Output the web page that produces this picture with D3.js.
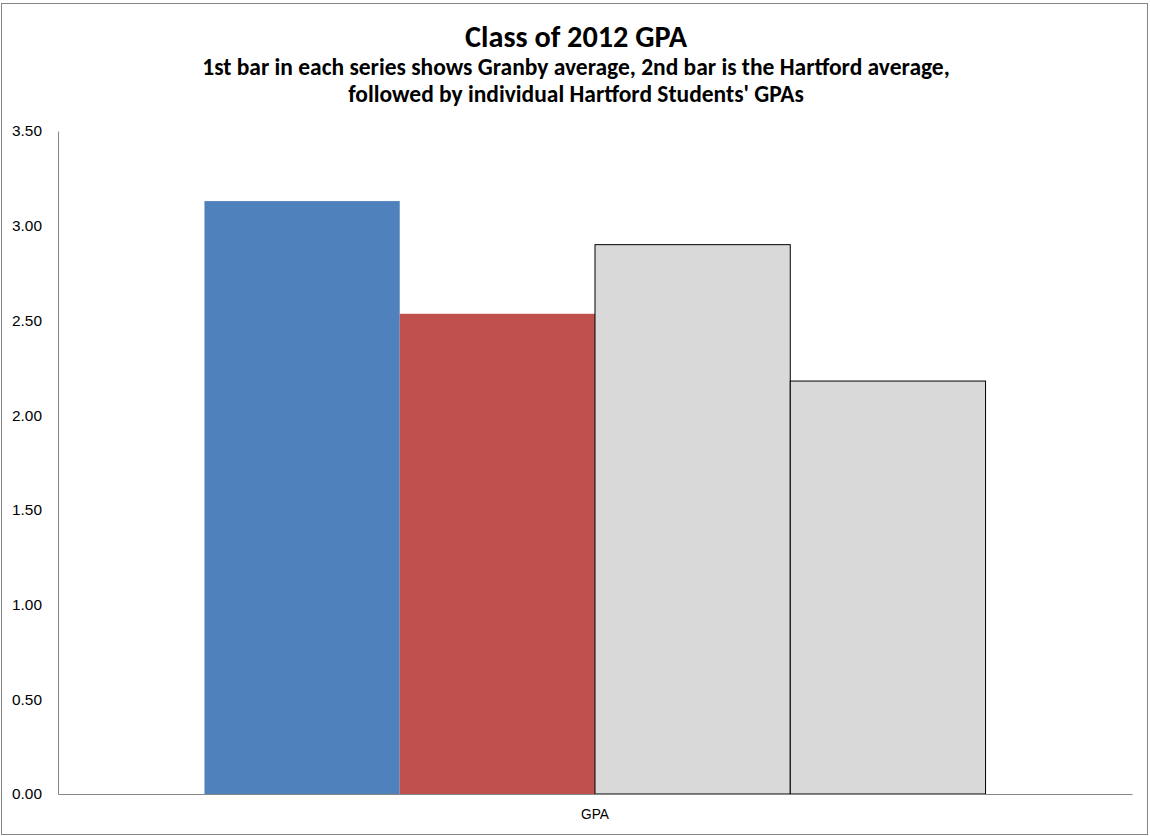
<!DOCTYPE html>
<meta charset="utf-8">
<script src="https://d3js.org/d3.v7.min.js"></script>
<style>
  body { margin: 0; background: #fff; }
  svg { font-family: Carlito, Calibri, "Open Sans", sans-serif; }
  .axis text { fill: #000; }
</style>
<body></body>
<script>
  // data
  const categories = ["GPA"];
  const seriesNames = ["Granby average", "Hartford average", "Student 1", "Student 2"];
  const seriesValues = [3.13, 2.535, 2.90, 2.18];
  const seriesColors = ["#4F81BD", "#C0504D", "#D9D9D9", "#D9D9D9"];
  const yTicks = [0, 0.5, 1, 1.5, 2, 2.5, 3, 3.5];

  const W = 1150, H = 836;
  const margin = { top: 131, right: 18, bottom: 42, left: 58 };
  const width = W - margin.left - margin.right,
    height = H - margin.top - margin.bottom;

  const svg = d3.select("body").append("svg")
    .attr("width", W).attr("height", H);

  // scale a text's font so it spans the width seen in the picture
  function fit(sel, target) {
    const fs = parseFloat(sel.style("font-size"));
    const w = sel.node().getComputedTextLength();
    sel.style("font-size", (fs * target / w) + "px");
    return fs * target / w;
  }

  // chart border
  svg.append("rect")
    .attr("x", 1.5).attr("y", 3.5)
    .attr("width", W - 4).attr("height", H - 5)
    .attr("fill", "#fff").attr("stroke", "#868686");

  const title = svg.append("text")
    .attr("x", 576).attr("y", 47)
    .attr("text-anchor", "middle")
    .style("font-weight", "bold").style("font-size", "28px")
    .text("Class of 2012 GPA");
  fit(title, 222);

  const subtitle = ["1st bar in each series shows Granby average, 2nd bar is the Hartford average,",
    "followed by individual Hartford Students' GPAs"];
  const subs = svg.selectAll(".sub").data(subtitle).enter().append("text")
    .attr("class", "sub")
    .attr("x", 576).attr("y", (d, i) => 75 + i * 27)
    .attr("text-anchor", "middle")
    .style("font-weight", "bold").style("font-size", "20px")
    .text(d => d);
  const subSize = fit(subs.filter((d, i) => i === 0), 748);
  subs.style("font-size", subSize + "px");

  const g = svg.append("g")
    .attr("transform", `translate(${margin.left},${margin.top})`);

  const x0 = d3.scaleBand()
    .domain(categories)
    .range([0, width])
    .paddingOuter(0.1875);

  const x1 = d3.scaleBand()
    .domain(seriesNames)
    .range([0, x0.bandwidth()]);

  const y = d3.scaleLinear()
    .domain([0, 3.5])
    .range([height, 0]);

  const yAxis = g.append("g").attr("class", "axis")
    .call(d3.axisLeft(y).tickValues(yTicks).tickFormat(d3.format(".2f")).tickSize(0).tickPadding(16));
  yAxis.select(".domain").attr("stroke", "#868686");
  yAxis.selectAll("text").style("font-size", "15px");
  const ySize = fit(yAxis.select(".tick:last-of-type text"), 30);
  yAxis.selectAll("text").style("font-size", ySize + "px");

  const groups = g.selectAll(".cat").data(categories).enter().append("g")
    .attr("class", "cat")
    .attr("transform", d => `translate(${x0(d)},0)`);

  groups.selectAll("rect")
    .data(seriesNames.map((s, i) => ({ name: s, value: seriesValues[i], color: seriesColors[i] })))
    .enter().append("rect")
    .attr("x", d => x1(d.name))
    .attr("y", d => y(d.value))
    .attr("width", x1.bandwidth())
    .attr("height", d => height - y(d.value))
    .attr("fill", d => d.color)
    .attr("stroke", d => d.color === "#D9D9D9" ? "#000" : "none")
    .attr("stroke-width", 1);

  const xAxis = g.append("g").attr("class", "axis")
    .attr("transform", `translate(0,${height})`)
    .call(d3.axisBottom(x0).tickSize(0).tickPadding(15));
  xAxis.select(".domain").attr("stroke", "#868686");
  xAxis.selectAll("text").style("font-size", "15px");
  fit(xAxis.select("text"), 28);
</script>
